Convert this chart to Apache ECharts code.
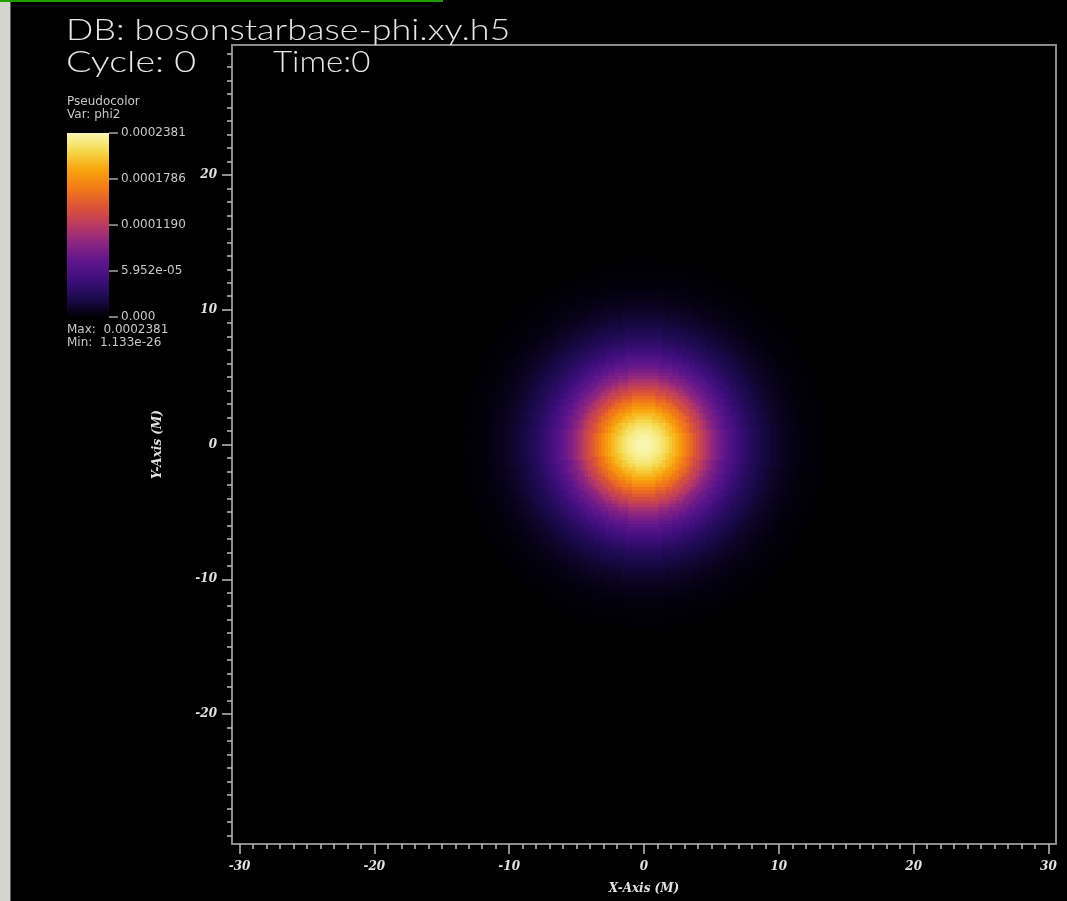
<!DOCTYPE html>
<html>
<head>
<meta charset="utf-8">
<script src="https://cdn.jsdelivr.net/npm/echarts@6/dist/echarts.min.js"></script>
<style>
  html, body { margin: 0; padding: 0; background: #000; }
  #chart { width: 1067px; height: 901px; }
</style>
</head>
<body>
<div id="chart"></div>
<script>
// phi2 sampled outward from the star centre, one value every 0.25 M
const radiusStep = 0.25;
const phi2Profile = [
  2.381e-4, 2.376e-4, 2.362e-4, 2.336e-4, 2.300e-4, 2.257e-4, 2.205e-4, 2.143e-4,
  2.076e-4, 2.002e-4, 1.924e-4, 1.838e-4, 1.750e-4, 1.657e-4, 1.564e-4, 1.469e-4,
  1.376e-4, 1.283e-4, 1.191e-4, 1.100e-4, 1.012e-4, 0.935e-4, 0.858e-4, 0.786e-4,
  0.718e-4, 0.655e-4, 0.595e-4, 0.540e-4, 0.488e-4, 0.440e-4, 0.396e-4, 0.356e-4,
  0.318e-4, 0.284e-4, 0.252e-4, 0.224e-4, 0.198e-4, 0.174e-4, 0.152e-4, 0.132e-4,
  0.114e-4, 0.098e-4, 0.083e-4, 0.070e-4, 0.058e-4, 0.048e-4, 0.040e-4, 0.032e-4,
  0.026e-4, 0.021e-4, 0.016e-4, 0.012e-4, 0.009e-4, 0.006e-4, 0.004e-4
];
const phi2Max = 2.381e-4;
const phi2MaxLabel = '0.0002381';
const phi2MinLabel = '1.133e-26';

// axis ticks
const xMajorTicks = [-30, -20, -10, 0, 10, 20, 30];
const yMajorTicks = [-20, -10, 0, 10, 20];
const minorTicks = [];
for (let v = -30; v <= 30; v++) minorTicks.push(v);

// colour table legend
const legendTickValues = [2.381e-4, 1.786e-4, 1.190e-4, 5.952e-5, 0];
const legendTickLabels = ['0.0002381', '0.0001786', '0.0001190', '5.952e-05', '0.000'];

// inferno-style colour table, low to high
const infernoColors = [
  '#000004', '#1b0a4c', '#3c0e7a', '#5f168c', '#8a2482', '#ba3a62',
  '#dc5436', '#f27a18', '#f9a50c', '#f5d74a', '#f9f8b0'
];

// grid of cells covering the star; each cell takes the profile sample at its radius
const cellData = [];
const reach = (phi2Profile.length - 1) * radiusStep;
for (let x = -reach; x <= reach + 1e-9; x += radiusStep) {
  for (let y = -reach; y <= reach + 1e-9; y += radiusStep) {
    const idx = Math.round(Math.sqrt(x * x + y * y) / radiusStep);
    if (idx < phi2Profile.length) cellData.push([x, y, phi2Profile[idx]]);
  }
}

const chart = echarts.init(document.getElementById('chart'), null, { renderer: 'canvas' });

const labelFont = {
  color: '#e2e2e2',
  fontFamily: 'DejaVu Serif',
  fontStyle: 'italic',
  fontWeight: 'bold',
  fontSize: 12
};
const tickLine = { color: '#bdbdbd', width: 1.5 };
const xRange = 30.56;
const yRange = 29.64;

// colour bar geometry
const bar = { x: 67, y: 133, w: 42, h: 184 };
const smallFont = { fill: '#c8c8c8', fontSize: 12, fontFamily: 'DejaVu Sans', verticalAlign: 'middle', align: 'left' };
const barGraphics = [];
barGraphics.push({
  type: 'rect',
  shape: { x: bar.x, y: bar.y, width: bar.w, height: bar.h },
  style: {
    fill: new echarts.graphic.LinearGradient(0, 1, 0, 0,
      infernoColors.map((c, i) => ({ offset: i / (infernoColors.length - 1), color: c })))
  },
  silent: true
});
legendTickValues.forEach((v, i) => {
  const ty = bar.y + bar.h * (1 - v / phi2Max);
  barGraphics.push({
    type: 'line',
    shape: { x1: bar.x + bar.w, y1: ty, x2: bar.x + bar.w + 9, y2: ty },
    style: { stroke: '#cfcfcf', lineWidth: 1.2 }
  });
  barGraphics.push({
    type: 'text',
    x: bar.x + bar.w + 12, y: ty,
    style: Object.assign({ text: legendTickLabels[i] }, smallFont)
  });
});

const smallText = (text, x, y) => ({
  type: 'text', x: x, y: y, style: Object.assign({ text: text }, smallFont)
});
const titleText = (text, x, y, sx) => ({
  type: 'text', x: x, y: y, scaleX: sx,
  style: {
    text: text, fill: '#e6e6e6', fontSize: 29, fontFamily: 'Lato', fontWeight: 300,
    verticalAlign: 'middle'
  }
});

const valueAxis = (range, pos, extra) => Object.assign({
  type: 'value', min: -range, max: range, position: pos,
  axisLine: { show: false, onZero: false }, splitLine: { show: false }
}, extra);

chart.setOption({
  backgroundColor: '#000',
  animation: false,
  grid: {
    left: 232, top: 45, right: 11, bottom: 57,
    show: true, borderColor: '#8a8a8a', borderWidth: 2, backgroundColor: '#000'
  },
  xAxis: [
    valueAxis(xRange, 'bottom', {
      axisTick: { show: true, length: 10, customValues: xMajorTicks, lineStyle: tickLine },
      axisLabel: Object.assign({ customValues: xMajorTicks, margin: 17 }, labelFont),
      name: 'X-Axis (M)', nameLocation: 'middle', nameGap: 39,
      nameTextStyle: Object.assign({}, labelFont)
    }),
    valueAxis(xRange, 'bottom', {
      axisTick: { show: true, length: 5, customValues: minorTicks, lineStyle: tickLine },
      axisLabel: { show: false }
    })
  ],
  yAxis: [
    valueAxis(yRange, 'left', {
      axisTick: { show: true, length: 10, customValues: yMajorTicks, lineStyle: tickLine },
      axisLabel: Object.assign({ customValues: yMajorTicks, margin: 15 }, labelFont),
      name: 'Y-Axis (M)', nameLocation: 'middle', nameGap: 68, nameRotate: 90,
      nameTextStyle: Object.assign({}, labelFont)
    }),
    valueAxis(yRange, 'left', {
      axisTick: { show: true, length: 5, customValues: minorTicks, lineStyle: tickLine },
      axisLabel: { show: false }
    })
  ],
  visualMap: {
    type: 'continuous', show: false, seriesIndex: 0, dimension: 2,
    min: 0, max: phi2Max, inRange: { color: infernoColors }
  },
  series: [{
    type: 'custom',
    xAxisIndex: 0, yAxisIndex: 0,
    clip: true,
    progressive: 0,
    data: cellData,
    renderItem: function (params, api) {
      const x = api.value(0), y = api.value(1), h = radiusStep / 2;
      const p0 = api.coord([x - h, y + h]);
      const p1 = api.coord([x + h, y - h]);
      return {
        type: 'rect',
        shape: { x: p0[0] - 0.4, y: p0[1] - 0.4, width: p1[0] - p0[0] + 0.8, height: p1[1] - p0[1] + 0.8 },
        style: { fill: api.visual('color') },
        silent: true
      };
    }
  }],
  graphic: [
    { type: 'rect', shape: { x: 0, y: 0, width: 10, height: 901 }, style: { fill: '#d6d4cf' }, silent: true },
    { type: 'rect', shape: { x: 10, y: 0, width: 1, height: 901 }, style: { fill: '#5e5e5e' }, silent: true },
    { type: 'rect', shape: { x: 0, y: 0, width: 443, height: 2 }, style: { fill: '#1f9e00' }, silent: true },
    titleText('DB: bosonstarbase-phi.xy.h5', 66, 31, 1.24),
    titleText('Cycle: 0', 66, 63, 1.3),
    titleText('Time:0', 273, 63, 1.14),
    smallText('Pseudocolor', 67, 102),
    smallText('Var: phi2', 67, 115),
    smallText('Max:  ' + phi2MaxLabel, 67, 330),
    smallText('Min:  ' + phi2MinLabel, 67, 343)
  ].concat(barGraphics)
});
</script>
</body>
</html>
